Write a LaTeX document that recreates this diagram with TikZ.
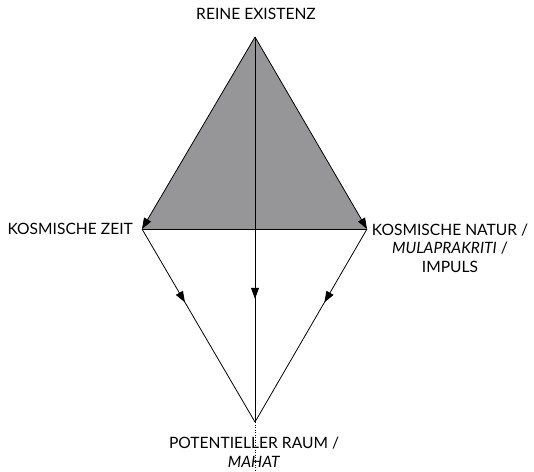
\documentclass[tikz,border=0pt]{standalone}
\usepackage{fontspec}
\setmainfont{Lato}
\usetikzlibrary{arrows.meta,decorations.markings}
\definecolor{ConeGray}{RGB}{150,150,152}

\tikzset{
  rayline/.style={line width=0.8pt},
  tip/.tip={Triangle[length=11pt,width=8pt]},
  midarrow/.style={postaction={decorate},
    decoration={markings,mark=at position #1 with {\arrow{tip}}}},
  termtext/.style={font=\fontsize{15.6}{18.5}\selectfont,align=center,inner sep=0pt}
}

\begin{document}
\begin{tikzpicture}[x=1pt,y=-1pt]
\useasboundingbox (0,0) rectangle (534,471);
\coordinate (top) at (255,37);
\coordinate (zeit) at (142,229);
\coordinate (natur) at (367,229);
\coordinate (raum) at (255,422);
\coordinate (foot) at (255,471);
% cone of existence
\fill[ConeGray] (top) -- (zeit) -- (natur) -- cycle;
\draw[rayline,-tip] (top) -- (zeit);
\draw[rayline,-tip] (top) -- (natur);
\draw[rayline] (zeit) -- (natur);
% rays down to space
\draw[rayline,midarrow=0.68] (top) -- (raum);
\draw[rayline,midarrow=0.38] (zeit) -- (raum);
\draw[rayline,midarrow=0.38] (natur) -- (raum);
% labels
\node[termtext] (existenz) at (256,14) {REINE EXISTENZ};
\node[termtext,anchor=east] (zeittxt) at (133,229) {KOSMISCHE ZEIT};
\node[termtext] (naturtxt) at (450,248)
  {KOSMISCHE NATUR /\\\textit{MULAPRAKRITI} /\\IMPULS};
\node[termtext] (raumtxt) at (254,452) {POTENTIELLER RAUM /\\\textit{MAHAT}};
\draw[line width=0.5pt,dotted] (raum) -- (foot);
\end{tikzpicture}
\end{document}
